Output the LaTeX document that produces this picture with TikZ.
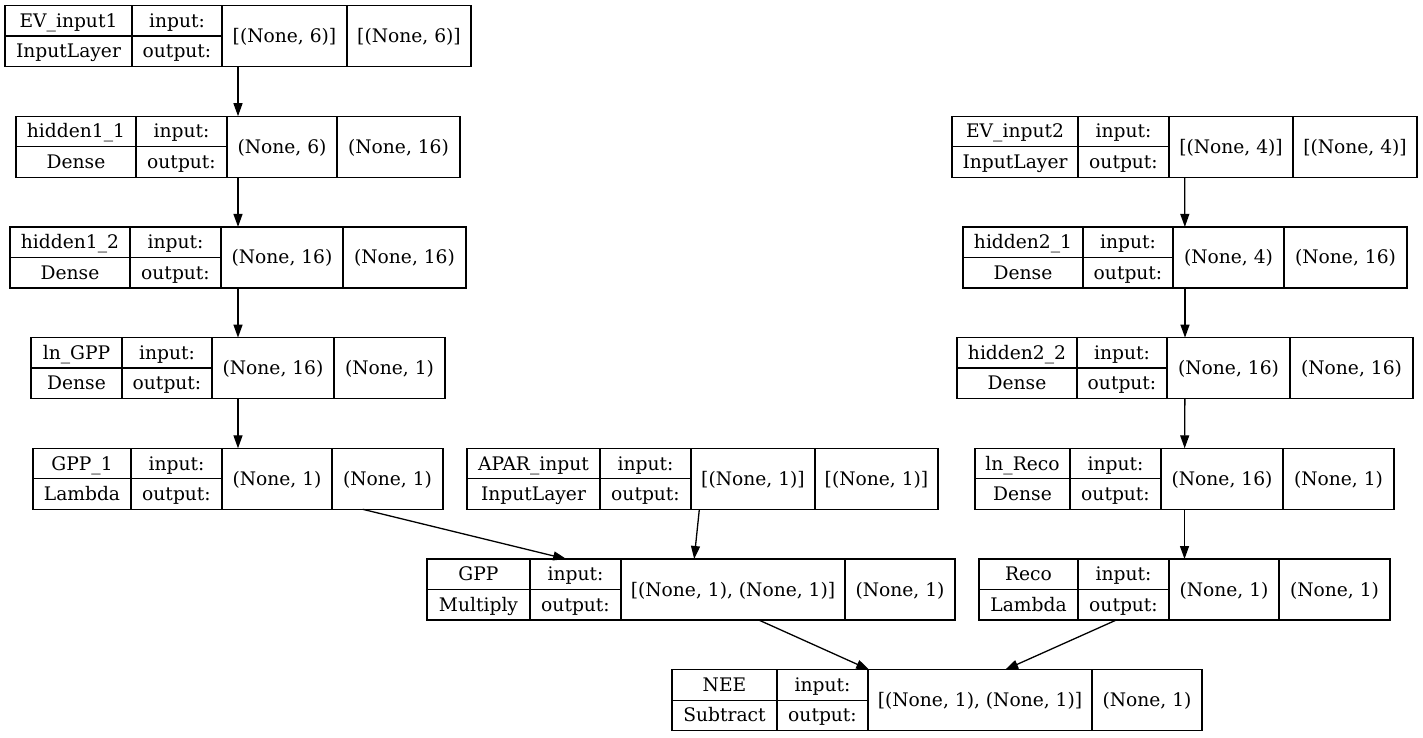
\documentclass[tikz,border=0pt]{standalone}
\usepackage{fontspec}
\setmainfont{DejaVu Serif}
\usetikzlibrary{arrows.meta}

% cell borders of one layer: x of left edge, three dividers, right edge
\def\splitcols#1,#2,#3,#4,#5\relax{\def\xa{#1}\def\xb{#2}\def\xc{#3}\def\xd{#4}\def\xe{#5}}

% \layer{node}{x-list}{top}{name}{type}{input shape}{output shape}
\newcommand\layer[7]{%
  \splitcols#2\relax
  \pgfmathsetmacro\recw{\xe-\xa}
  \pgfmathsetmacro\recx{(\xa+\xe)/2}
  \node[record, minimum width=\recw pt] (#1) at (\recx,#3+30.5) {};
  \draw[rule] (\xb,#3) -- ++(0,61) (\xc,#3) -- ++(0,61) (\xd,#3) -- ++(0,61)
              (\xa,#3+30.5) -- (\xc,#3+30.5);
  \node[lbl] (#1-name) at ({(\xa+\xb)/2},#3+15.25) {#4};
  \node[lbl] (#1-type) at ({(\xa+\xb)/2},#3+45.75) {#5};
  \node[lbl] (#1-lin)  at ({(\xb+\xc)/2},#3+15.25) {input:};
  \node[lbl] (#1-lout) at ({(\xb+\xc)/2},#3+45.75) {output:};
  \node[lbl] (#1-in)   at ({(\xc+\xd)/2},#3+30.5) {#6};
  \node[lbl] (#1-out)  at ({(\xd+\xe)/2},#3+30.5) {#7};
}

\begin{document}
\begin{tikzpicture}[x=1pt,y=-1pt,font=\fontsize{18.67}{22}\selectfont,
    rule/.style={line width=1.3pt},
    record/.style={draw,rule,minimum height=61pt,inner sep=0pt,outer sep=0pt},
    lbl/.style={inner sep=0pt,text height=0.72em,text depth=0.22em,yshift=-4pt},
    flow/.style={-{Triangle[length=13pt,width=9pt]},line width=1.3pt}]
  \useasboundingbox (0,0) rectangle (1423,737);

  % left branch
  \layer{EV1}{5,132,222,347,471}{5.5}{EV\_input1}{InputLayer}{[(None, 6)]}{[(None, 6)]}
  \layer{H11}{16,136,227,337,460}{116.2}{hidden1\_1}{Dense}{(None, 6)}{(None, 16)}
  \layer{H12}{10,130,221,343,466}{226.9}{hidden1\_2}{Dense}{(None, 16)}{(None, 16)}
  \layer{LNGPP}{31,122,212,334,445}{337.6}{ln\_GPP}{Dense}{(None, 16)}{(None, 1)}
  \layer{GPP1}{33,131,222,332,443}{448.3}{GPP\_1}{Lambda}{(None, 1)}{(None, 1)}

  % middle
  \layer{APAR}{467,600,691,815,938}{448.3}{APAR\_input}{InputLayer}{[(None, 1)]}{[(None, 1)]}
  \layer{GPP}{427,530,621,845,955}{559}{GPP}{Multiply}{[(None, 1), (None, 1)]}{(None, 1)}
  \layer{NEE}{672,777,868,1092,1202}{669.7}{NEE}{Subtract}{[(None, 1), (None, 1)]}{(None, 1)}

  % right branch
  \layer{EV2}{952,1078,1169,1293,1417}{116.2}{EV\_input2}{InputLayer}{[(None, 4)]}{[(None, 4)]}
  \layer{H21}{963,1083,1173,1284,1407}{226.9}{hidden2\_1}{Dense}{(None, 4)}{(None, 16)}
  \layer{H22}{957,1077,1167,1290,1413}{337.6}{hidden2\_2}{Dense}{(None, 16)}{(None, 16)}
  \layer{LNRECO}{975,1070,1161,1283,1394}{448.3}{ln\_Reco}{Dense}{(None, 16)}{(None, 1)}
  \layer{RECO}{979,1078,1169,1279,1390}{559}{Reco}{Lambda}{(None, 1)}{(None, 1)}

  \path[flow]
   (EV1) edge (H11)
   (H11) edge (H12)
   (H12) edge (LNGPP)
   (LNGPP) edge (GPP1)
   (GPP1) edge (GPP)
   (APAR) edge (GPP)
   (GPP) edge (NEE)
   (EV2) edge (H21)
   (H21) edge (H22)
   (H22) edge (LNRECO)
   (LNRECO) edge (RECO)
   (RECO) edge (NEE);
\end{tikzpicture}
\end{document}
